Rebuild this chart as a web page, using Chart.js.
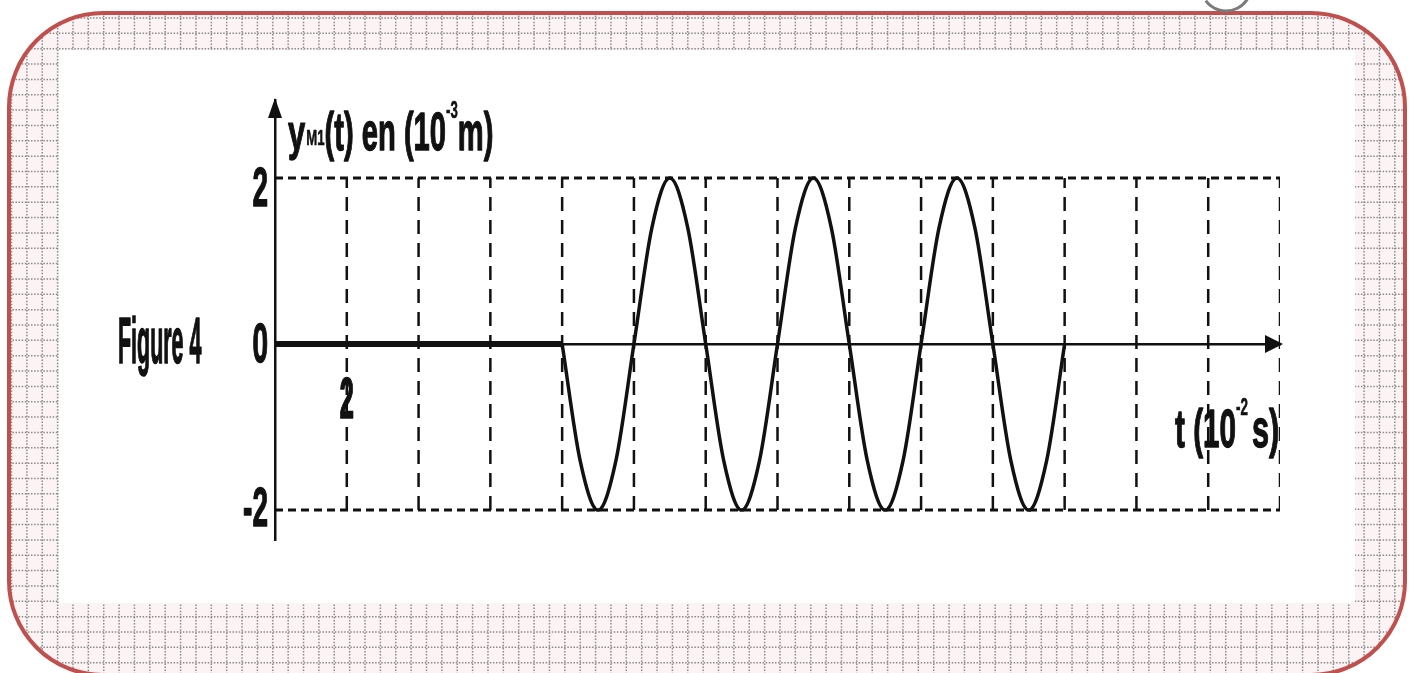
<!DOCTYPE html>
<html>
<head>
<meta charset="utf-8">
<script src="https://cdn.jsdelivr.net/npm/chart.js@4/dist/chart.umd.min.js"></script>
<style>
  html, body { margin: 0; padding: 0; background: #fff; }
  #wrap { width: 1416px; height: 673px; }
</style>
</head>
<body>
<div id="wrap"><canvas id="chart" width="1416" height="673"></canvas></div>
<script>
// --- data (t in 10^-2 s, y in 10^-3 m) ---
var restT = [0, 8];           // source at rest before the wave arrives
var restY = [0, 0];
var waveT = [8, 8.5, 9, 9.5, 10, 10.5, 11, 11.5, 12, 12.5, 13, 13.5, 14, 14.5,
             15, 15.5, 16, 16.5, 17, 17.5, 18, 18.5, 19, 19.5, 20, 20.5, 21, 21.5, 22];
var waveY = [0, -1.4, -2, -1.4, 0, 1.4, 2, 1.4, 0, -1.4, -2, -1.4, 0, 1.4,
             2, 1.4, 0, -1.4, -2, -1.4, 0, 1.4, 2, 1.4, 0, -1.4, -2, -1.4, 0];
var gridT = [2, 4, 6, 8, 10, 12, 14, 16, 18, 20, 22, 24, 26, 28];
var gridY = [-2, 2];
var yTicks = [-2, 0, 2];
var xTicks = [2];

var FONT = 'bold {s}px "Liberation Sans", Arial, sans-serif';
function font(s) { return FONT.replace('{s}', s); }

// draw horizontally squeezed text, returns advance width
function squeeze(ctx, str, x, y, size, sx, align) {
    ctx.save();
    ctx.font = font(size);
    var w = ctx.measureText(str).width * sx;
    var x0 = x;
    if (align === 'right') x0 = x - w;
    if (align === 'center') x0 = x - w / 2;
    ctx.translate(x0, y);
    ctx.scale(sx, 1);
    ctx.textAlign = 'left';
    ctx.textBaseline = 'alphabetic';
    ctx.fillText(str, 0, 0);
    // thicken strokes a bit, squeezing makes them thin
    ctx.strokeStyle = ctx.fillStyle;
    ctx.lineWidth = size / 40;
    ctx.lineJoin = 'round';
    ctx.strokeText(str, 0, 0);
    ctx.restore();
    return w;
}

function rrect(ctx, x, y, w, h, r) {
    ctx.beginPath();
    ctx.moveTo(x + r, y);
    ctx.lineTo(x + w - r, y);
    ctx.arcTo(x + w, y, x + w, y + r, r);
    ctx.lineTo(x + w, y + h - r);
    ctx.arcTo(x + w, y + h, x + w - r, y + h, r);
    ctx.lineTo(x + r, y + h);
    ctx.arcTo(x, y + h, x, y + h - r, r);
    ctx.lineTo(x, y + r);
    ctx.arcTo(x, y, x + r, y, r);
    ctx.closePath();
}

// page frame: pink squared paper, white card, red rounded border
const framePlugin = {
    id: 'frame',
    beforeDraw: (chart) => {
        const ctx = chart.ctx;
        ctx.save();
        ctx.fillStyle = 'white';
        ctx.fillRect(0, 0, chart.width, chart.height);

        rrect(ctx, 9, 13, 1396, 662, 94);
        ctx.save();
        ctx.clip();
        ctx.fillStyle = '#fcf4f4';
        ctx.fillRect(0, 0, chart.width, chart.height);
        ctx.strokeStyle = '#8a8a8a';
        ctx.lineWidth = 1.5;
        ctx.setLineDash([1.5, 1.6]);
        for (var gx = 11.5; gx < chart.width; gx += 15.37) {
            ctx.beginPath(); ctx.moveTo(gx, 0); ctx.lineTo(gx, chart.height); ctx.stroke();
        }
        for (var gy = 18; gy < chart.height; gy += 15.35) {
            ctx.beginPath(); ctx.moveTo(0, gy); ctx.lineTo(chart.width, gy); ctx.stroke();
        }
        ctx.restore();

        ctx.fillStyle = 'white';
        ctx.fillRect(59, 50, 1296, 553);

        rrect(ctx, 9, 13, 1396, 662, 94);
        ctx.strokeStyle = '#c0504d';
        ctx.lineWidth = 4;
        ctx.stroke();

        // bit of a circled mark cut by the top edge
        ctx.beginPath();
        ctx.arc(1226, -14, 25, 0.1 * Math.PI, 0.8 * Math.PI);
        ctx.strokeStyle = '#7a7a7a';
        ctx.lineWidth = 3;
        ctx.stroke();
        ctx.restore();
    }
};

// arrows, tick labels and titles
const textPlugin = {
    id: 'texts',
    afterDraw: (chart) => {
        const ctx = chart.ctx;
        const xs = chart.scales.x, ys = chart.scales.y;
        const x0 = xs.getPixelForValue(0), yTop = chart.chartArea.top;
        const y0 = ys.getPixelForValue(0), xEnd = chart.chartArea.right;
        ctx.save();
        ctx.fillStyle = '#111';

        // arrow heads
        ctx.beginPath();
        ctx.moveTo(x0, yTop - 2); ctx.lineTo(x0 - 7, yTop + 18); ctx.lineTo(x0 + 7, yTop + 18);
        ctx.closePath(); ctx.fill();
        ctx.beginPath();
        ctx.moveTo(xEnd + 3, y0); ctx.lineTo(xEnd - 15, y0 - 9); ctx.lineTo(xEnd - 15, y0 + 9);
        ctx.closePath(); ctx.fill();

        // y tick labels
        yTicks.forEach(function (v) {
            var py = ys.getPixelForValue(v);
            var off = v === 0 ? 18 : (v > 0 ? 28 : 16);
            squeeze(ctx, String(v), x0 - 7, py + off, 56, 0.5, 'right');
        });
        // x tick labels
        xTicks.forEach(function (v) {
            squeeze(ctx, String(v), xs.getPixelForValue(v), y0 + 74, 58, 0.45, 'center');
        });

        // axis titles
        var x = 288, base = 150;
        x += squeeze(ctx, 'y', x, base, 50, 0.62);
        x += squeeze(ctx, 'M1', x + 1, base - 5, 22, 0.6) + 1;
        x += squeeze(ctx, '(t) en (10', x, base, 53, 0.55);
        x += squeeze(ctx, '-3', x, base - 32, 24, 0.55);
        squeeze(ctx, 'm)', x, base, 53, 0.55);

        x = 1175; base = 447;
        x += squeeze(ctx, 't (10', x, base, 53, 0.56);
        x += squeeze(ctx, '-2', x, base - 32, 24, 0.56) + 4;
        squeeze(ctx, 's)', x, base, 53, 0.58);

        squeeze(ctx, 'Figure 4', 118, 363, 64, 0.335);
        ctx.restore();
    }
};

function buildDatasets() {
    var sets = [];
    // dashed horizontal limits at +2 / -2
    gridY.forEach(function (v) {
        sets.push({
            data: [{x: 0, y: v}, {x: gridT[gridT.length - 1], y: v}],
            borderColor: '#111', borderWidth: 3, borderDash: [8, 5],
            pointRadius: 0, fill: false
        });
    });
    // dashed verticals every 2
    gridT.forEach(function (t) {
        sets.push({
            data: [{x: t, y: gridY[0]}, {x: t, y: gridY[1]}],
            borderColor: '#111', borderWidth: 2.5, borderDash: [14, 9],
            pointRadius: 0, fill: false
        });
    });
    sets.push({
        data: restT.map(function (t, i) { return {x: t, y: restY[i]}; }),
        borderColor: '#111', borderWidth: 6, pointRadius: 0, fill: false
    });
    sets.push({
        data: waveT.map(function (t, i) { return {x: t, y: waveY[i]}; }),
        borderColor: '#111', borderWidth: 3.5, pointRadius: 0, fill: false,
        cubicInterpolationMode: 'monotone'
    });
    return sets;
}

function createChart() {
    var ctx = document.getElementById('chart').getContext('2d');
    var myChart = new Chart(ctx, {
        type: 'line',
        data: { datasets: buildDatasets() },
        options: {
            responsive: false,
            animation: false,
            layout: { padding: { left: 275, right: 136, top: 100, bottom: 133 } },
            scales: {
                x: {
                    type: 'linear', min: 0, max: 28,
                    position: { y: 0 },
                    grid: { display: false },
                    border: { display: true, color: '#111', width: 2.5 },
                    ticks: { display: false }
                },
                y: {
                    type: 'linear', min: -2.36, max: 2.94,
                    grid: { display: false },
                    border: { display: true, color: '#111', width: 2.5 },
                    ticks: { display: false },
                    afterFit: function (s) { s.width = 0; }
                }
            },
            plugins: {
                legend: { display: false },
                tooltip: { enabled: false }
            }
        },
        plugins: [framePlugin, textPlugin]
    });
    myChart.update();
}

createChart();
</script>
</body>
</html>
